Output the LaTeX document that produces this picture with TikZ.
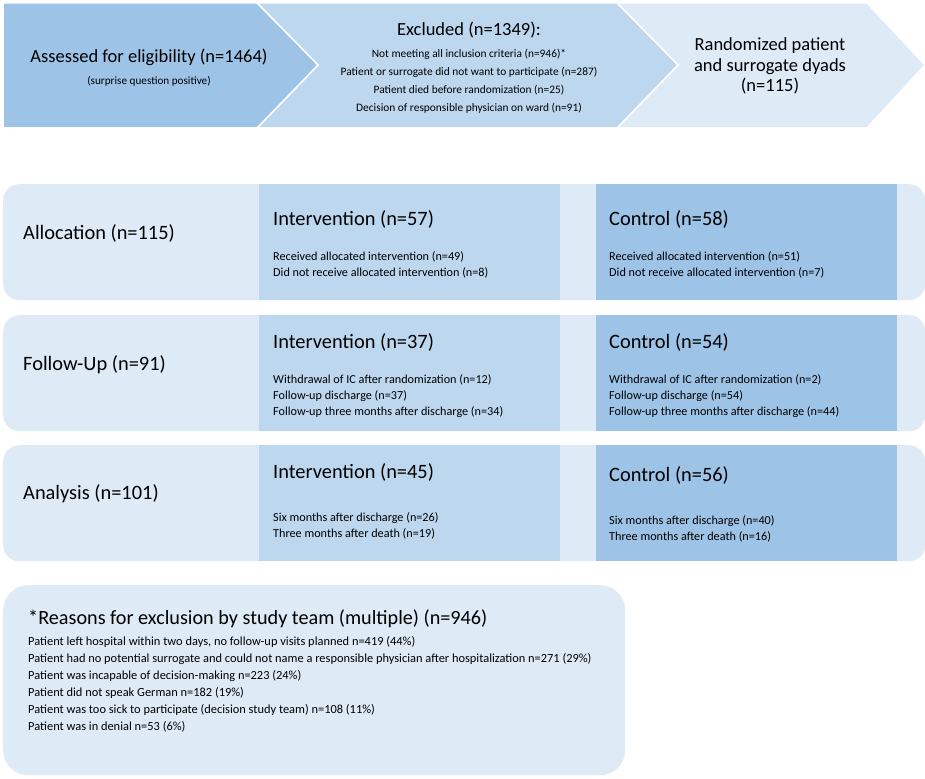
\documentclass[tikz,border=0pt]{standalone}
\usepackage{fontspec}
\setmainfont{Carlito}
\usetikzlibrary{shapes}
\usetikzlibrary{calc}
\definecolor{blueDark}{HTML}{9DC3E6}
\definecolor{blueMid}{HTML}{BDD7EE}
\definecolor{blueLight}{HTML}{DEEBF7}
\tikzset{
	chevron/.style={draw=white, line width=1.5pt, line join=miter},
	band/.style={fill=blueLight, rounded corners=16pt, inner sep=0pt, anchor=north west},
	arm/.style={inner sep=0pt, anchor=north west, minimum width=301pt, minimum height=116pt},
	head/.style={inner sep=0pt, anchor=west, font=\fontsize{20.4}{24}\selectfont},
	info/.style={inner sep=0pt, anchor=north west, align=left, font=\fontsize{12.2}{16.3}\selectfont},
}

\begin{document}
\begin{tikzpicture}[x=1pt, y=-1pt]
	\useasboundingbox (0,0) rectangle (925,778);
	% chevrons, back to front
	\filldraw[chevron, fill=blueLight] (617,3) -- (867,3) -- (925,65) -- (867,128) -- (617,128) -- (678,65) -- cycle;
	\filldraw[chevron, fill=blueMid] (257,3) -- (617,3) -- (678,65) -- (617,128) -- (257,128) -- (318,65) -- cycle;
	\filldraw[chevron, fill=blueDark] (3,3) -- (257,3) -- (318,65) -- (257,128) -- (3,128) -- cycle;
	\node[inner sep=0pt, font=\fontsize{18.5}{20}\selectfont] (assess) at (149,57) {Assessed for eligibility (n=1464)};
	\node[inner sep=0pt, font=\fontsize{11.2}{13}\selectfont] (sq) at (149,81) {(surprise question positive)};
	\node[inner sep=0pt, font=\fontsize{18.5}{20}\selectfont] (excl) at (469,30) {Excluded (n=1349):};
	\node[inner sep=0pt, anchor=north, align=center, font=\fontsize{11.4}{18}\selectfont] (exclList) at (469,49)
		{Not meeting all inclusion criteria (n=946)*\\Patient or surrogate did not want to participate (n=287)\\Patient died before randomization (n=25)\\Decision of responsible physician on ward (n=91)};
	\node[inner sep=0pt, align=center, font=\fontsize{18.5}{20.5}\selectfont] (rand) at (770,66)
		{Randomized patient\\and surrogate dyads\\(n=115)};
	% three rows with two arms each
	\foreach \y [count=\i] in {184,315,445} {
		\node[band, minimum width=922pt, minimum height=116pt] (row\i) at (3,\y) {};
		\node[arm, fill=blueMid] (int\i) at (259,\y) {};
		\node[arm, fill=blueDark] (con\i) at (596,\y) {};
	}
	% allocation
	\node[head] (alloc) at (23,233) {Allocation (n=115)};
	\node[head] (int1t) at ($(int1.north west)+(14,35)$) {Intervention (n=57)};
	\node[info] (int1l) at ($(int1.north west)+(14,67)$) {Received allocated intervention (n=49)\\Did not receive allocated intervention (n=8)};
	\node[head] (con1t) at ($(con1.north west)+(13,35)$) {Control (n=58)};
	\node[info] (con1l) at ($(con1.north west)+(13,67)$) {Received allocated intervention (n=51)\\Did not receive allocated intervention (n=7)};
	% follow-up
	\node[head] (follow) at (23,365) {Follow-Up (n=91)};
	\node[head] (int2t) at ($(int2.north west)+(14,27)$) {Intervention (n=37)};
	\node[info] (int2l) at ($(int2.north west)+(14,59)$) {Withdrawal of IC after randomization (n=12)\\Follow-up discharge (n=37)\\Follow-up three months after discharge (n=34)};
	\node[head] (con2t) at ($(con2.north west)+(13,27)$) {Control (n=54)};
	\node[info] (con2l) at ($(con2.north west)+(13,59)$) {Withdrawal of IC after randomization (n=2)\\Follow-up discharge (n=54)\\Follow-up three months after discharge (n=44)};
	% analysis
	\node[head] (anal) at (23,494) {Analysis (n=101)};
	\node[head] (int3t) at ($(int3.north west)+(14,27)$) {Intervention (n=45)};
	\node[info] (int3l) at ($(int3.north west)+(14,67)$) {Six months after discharge (n=26)\\Three months after death (n=19)};
	\node[head] (con3t) at ($(con3.north west)+(13,30)$) {Control (n=56)};
	\node[info] (con3l) at ($(con3.north west)+(13,70)$) {Six months after discharge (n=40)\\Three months after death (n=16)};
	% footnote box
	\node[band, rounded corners=25pt, minimum width=622pt, minimum height=190pt] (reasons) at (3,585) {};
	\node[head, font=\fontsize{20.2}{24}\selectfont] (reasonsT) at ($(reasons.north west)+(25,34)$) {*Reasons for exclusion by study team (multiple) (n=946)};
	\node[info, font=\fontsize{12.4}{17}\selectfont] (reasonsL) at ($(reasons.north west)+(25,51)$)
		{Patient left hospital within two days, no follow-up visits planned n=419 (44\%)\\
		Patient had no potential surrogate and could not name a responsible physician after hospitalization n=271 (29\%)\\
		Patient was incapable of decision-making n=223 (24\%)\\
		Patient did not speak German n=182 (19\%)\\
		Patient was too sick to participate (decision study team) n=108 (11\%)\\
		Patient was in denial n=53 (6\%)};
\end{tikzpicture}
\end{document}
